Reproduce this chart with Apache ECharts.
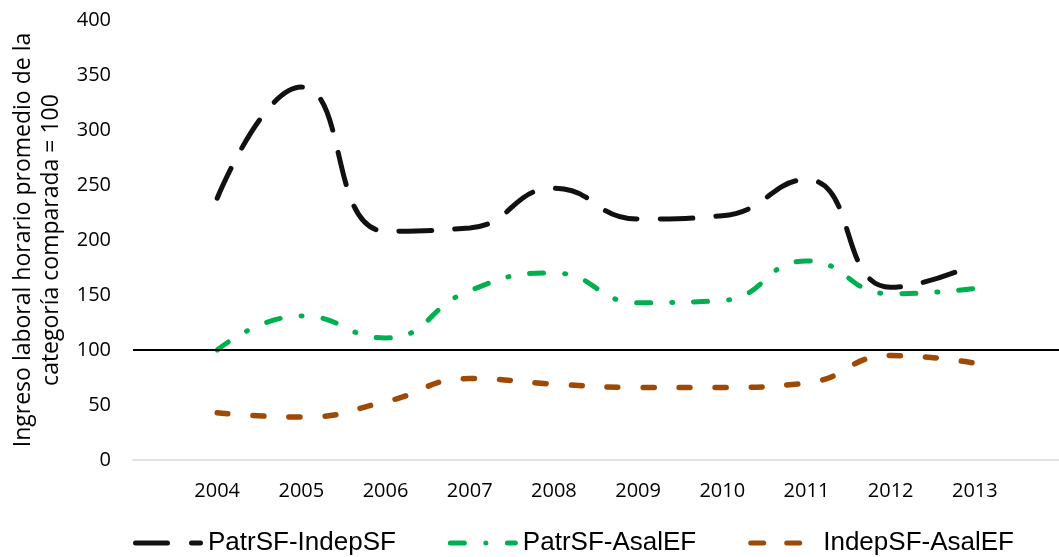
<!DOCTYPE html>
<html>
<head>
<meta charset="utf-8">
<script src="https://cdn.jsdelivr.net/npm/echarts@6/dist/echarts.min.js"></script>
<style>html,body{margin:0;padding:0;background:#fff;}#c{width:1059px;height:557px;}</style>
</head>
<body>
<div id="c"></div>
<script>
const years = [2004, 2005, 2006, 2007, 2008, 2009, 2010, 2011, 2012, 2013];
const patrIndep = [238, 339, 208, 211, 247, 219, 222, 255, 157, 178];
const patrAsal = [100, 131, 111, 154, 170, 143, 145, 181, 151, 156];
const indepAsal = [43, 39, 53, 74, 69, 66, 66, 70, 95, 88];
const seriesNames = ['PatrSF-IndepSF', 'PatrSF-AsalEF', 'IndepSF-AsalEF'];
const yTicks = [0, 50, 100, 150, 200, 250, 300, 350, 400];
const referenceValue = 100;

const pairs = arr => years.map((y, i) => [y, arr[i]]);
const chart = echarts.init(document.getElementById('c'), null, {renderer: 'canvas'});
const lineFont = 'Open Sans, Noto Sans, sans-serif';

// legend glyphs (rounded dash pieces in a 70 x 5 box)
const seg = (a, b) => 'M' + (a + 2.5) + ',0H' + (b - 2.5) + 'A2.5,2.5 0 0 1 ' + (b - 2.5) + ',5H' + (a + 2.5) + 'A2.5,2.5 0 0 1 ' + (a + 2.5) + ',0Z';
const pad = 'M69.95,0H70V0.01H69.95Z';
const icons = [
  'path://' + seg(0, 37) + seg(56, 70),
  'path://' + seg(0, 19) + seg(35.5, 40.5) + seg(57, 70),
  'path://' + seg(0, 18) + seg(36, 54) + pad
];

chart.setOption({
  animation: false,
  backgroundColor: '#ffffff',
  grid: {left: 133, right: 0, top: 20, bottom: 97, containLabel: false, outerBoundsMode: 'none'},
  xAxis: {
    type: 'value',
    min: years[0] - 1,
    max: years[years.length - 1] + 1,
    interval: 1,
    splitLine: {show: false},
    axisTick: {show: false},
    axisLine: {show: true, lineStyle: {color: '#d9d9d9', width: 1.5}},
    axisLabel: {
      margin: 21,
      color: '#000',
      fontFamily: lineFont,
      fontSize: 20,
      formatter: v => years.indexOf(v) >= 0 ? String(v) : ''
    }
  },
  yAxis: {
    type: 'value',
    min: yTicks[0],
    max: yTicks[yTicks.length - 1],
    interval: 50,
    splitLine: {show: false},
    axisLine: {show: false},
    axisTick: {show: false},
    axisLabel: {margin: 22, color: '#000', fontFamily: lineFont, fontSize: 20},
    name: 'Ingreso laboral horario promedio de la\ncategoría comparada = 100',
    nameLocation: 'middle',
    nameRotate: 90,
    nameGap: 61,
    nameTextStyle: {color: '#000', fontFamily: lineFont, fontSize: 23, lineHeight: 28, align: 'center'}
  },
  legend: {
    left: 133,
    top: 530,
    padding: 0,
    itemWidth: 70,
    itemHeight: 5,
    itemGap: 52,
    textStyle: {color: '#000', fontFamily: 'Liberation Sans, Arial, sans-serif', fontSize: 26},
    data: seriesNames.map((n, i) => ({name: n, icon: icons[i]}))
  },
  series: [
    {
      name: seriesNames[0], type: 'line', smooth: 0.5, symbol: 'none',
      data: pairs(patrIndep),
      lineStyle: {color: '#111111', width: 5, type: [33, 23], cap: 'round'},
      itemStyle: {color: '#111111'},
      markLine: {
        silent: true, symbol: 'none', label: {show: false},
        lineStyle: {color: '#000', width: 2, type: 'solid'},
        data: [{yAxis: referenceValue}]
      },
      z: 3
    },
    {
      name: seriesNames[1], type: 'line', smooth: 0.5, symbol: 'none',
      data: pairs(patrAsal),
      lineStyle: {color: '#00b050', width: 5, type: [14, 21, 1, 21], cap: 'round'},
      itemStyle: {color: '#00b050'},
      z: 2
    },
    {
      name: seriesNames[2], type: 'line', smooth: 0.5, symbol: 'none',
      data: pairs(indepAsal),
      lineStyle: {color: '#9e4a06', width: 5.5, type: [11, 25], cap: 'round'},
      itemStyle: {color: '#9e4a06'},
      z: 2
    }
  ]
});
</script>
</body>
</html>
